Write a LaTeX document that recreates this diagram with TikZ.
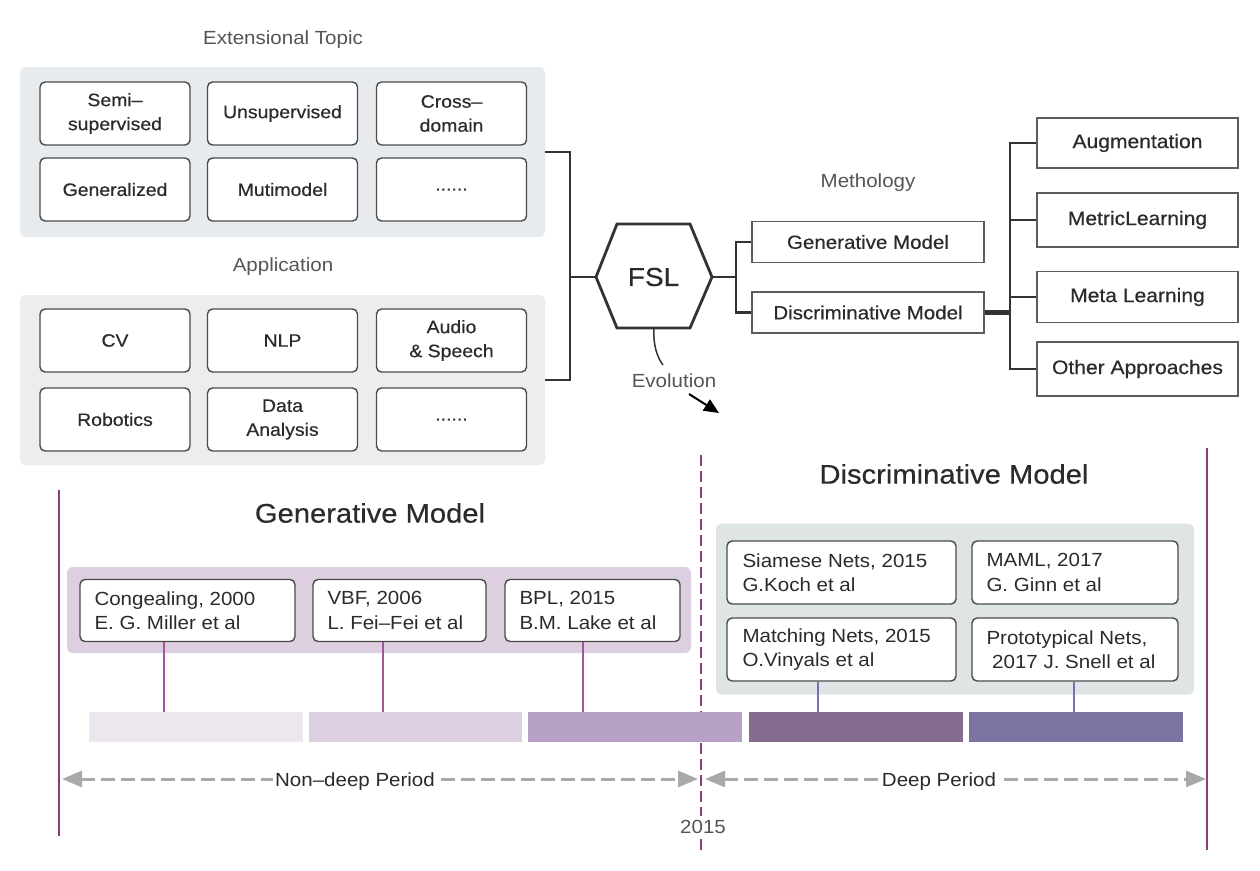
\documentclass[tikz,border=0pt]{standalone}
\usepackage{fontspec}
\setmainfont{Liberation Sans}[FakeStretch=1.08]
\newfontfamily\medfont{Liberation Sans}[FakeStretch=1.08,FakeBold=0.45]
\usetikzlibrary{arrows.meta,calc}
\definecolor{txt}{HTML}{2B2B2B}
\definecolor{ttl}{HTML}{555555}
\definecolor{bdr}{HTML}{4A4A4A}
\definecolor{cline}{HTML}{333333}
\definecolor{pA}{HTML}{E8EBEE}
\definecolor{pB}{HTML}{EEEDEC}
\definecolor{gpan}{HTML}{DCCFE0}
\definecolor{dpan}{HTML}{DEE5E4}
\definecolor{bA}{HTML}{ECE6EE}
\definecolor{bB}{HTML}{DCCFE1}
\definecolor{bC}{HTML}{B7A0C6}
\definecolor{bD}{HTML}{876C92}
\definecolor{bE}{HTML}{7D73A0}
\definecolor{purp}{HTML}{8B3D7E}
\definecolor{plA}{HTML}{A0589A}
\definecolor{plB}{HTML}{7B6FB8}
\definecolor{garr}{HTML}{A9A9A9}
\newcommand\fsz[2]{\fontsize{#1pt}{#2pt}\selectfont}
\begin{document}
\begin{tikzpicture}[x=1pt,y=-1pt,
  panel/.style={rounded corners=6pt, inner sep=0pt},
  tbox/.style={draw=bdr, line width=1.4pt, rounded corners=5pt, fill=white,
    minimum width=150pt, minimum height=63pt, align=center, inner sep=2pt,
    font=\medfont\fsz{18}{24}, text=txt},
  mbox/.style={draw=bdr!90, line width=1.5pt, fill=white, minimum width=232pt,
    minimum height=41pt, inner sep=2pt, font=\medfont\fsz{19}{23}, text=txt},
  rbox/.style={draw=bdr!90, line width=1.5pt, fill=white, minimum width=201pt,
    inner sep=2pt, font=\medfont\fsz{19.5}{23}, text=txt},
  ebox/.style={draw=bdr, line width=1.4pt, rounded corners=5pt, fill=white,
    minimum height=62pt, inner sep=0pt},
  etext/.style={anchor=west, align=left, inner sep=0pt, font=\fsz{19}{24.5}, text=txt},
  ttlnode/.style={font=\fsz{19}{22}, text=ttl},
  bigttl/.style={font=\medfont\fsz{27}{31}, text=txt},
  barnode/.style={minimum width=214pt, minimum height=30pt, inner sep=0pt},
  conn/.style={line width=2.8pt, draw=cline},
  plinka/.style={line width=1.2pt, draw=plA},
  plinkb/.style={line width=1.2pt, draw=plB},
  period/.style={draw=garr, line width=3pt, dash pattern=on 14pt off 6pt,
    {Triangle[length=20pt,width=16pt]}-{Triangle[length=20pt,width=16pt]}},
  plabel/.style={fill=white, inner xsep=2pt, inner ysep=1pt, font=\fsz{19}{22}, text=txt},
  vline/.style={draw=purp, line width=2.4pt}
]
\useasboundingbox[fill=white] (0,0) rectangle (1260,870);

% ---------- top-left panels ----------
\node[ttlnode] (tExt) at (283,40) {Extensional Topic};
\node[panel, fill=pA, minimum width=525pt, minimum height=170pt] (p1) at (282.5,152) {};
\node[tbox] (semi) at (115,113.5) {Semi–\\supervised};
\node[tbox] (unsup) at (282.5,113.5) {Unsupervised};
\node[tbox] (cross) at (451.5,113.5) {Cross–\\domain};
\node[tbox] (gen) at (115,189.5) {Generalized};
\node[tbox] (muti) at (282.5,189.5) {Mutimodel};
\node[tbox] (dotsA) at (451.5,189.5) {......};

\node[ttlnode] (tApp) at (283,267) {Application};
\node[panel, fill=pB, minimum width=525pt, minimum height=170pt] (p2) at (282.5,380) {};
\node[tbox] (cv) at (115,340.5) {CV};
\node[tbox] (nlp) at (282.5,340.5) {NLP};
\node[tbox] (audio) at (451.5,340.5) {Audio\\\& Speech};
\node[tbox] (robo) at (115,419.5) {Robotics};
\node[tbox] (data) at (282.5,419.5) {Data\\Analysis};
\node[tbox] (dotsB) at (451.5,419.5) {......};

% ---------- FSL hexagon ----------
\coordinate (hexL) at (596,277);
\coordinate (hexTL) at (617,224);
\coordinate (hexTR) at (690,224);
\coordinate (hexR) at (712,277);
\coordinate (hexBR) at (690,328);
\coordinate (hexBL) at (617,328);
\coordinate (hexB) at (654,328);
\draw[line width=2.8pt, draw=cline, fill=white, line join=miter]
  (hexL) -- (hexTL) -- (hexTR) -- (hexR) -- (hexBR) -- (hexBL) -- cycle;
\node[font=\medfont\fsz{26}{30}, text=txt] (fsl) at (653.5,277) {FSL};

\coordinate (brk) at (570,277);
\draw[conn] (p1.east) -| (brk) |- (p2.east);
\draw[conn] (brk) -- (hexL);

% ---------- methodology ----------
\node[ttlnode] (tMeth) at (868,183) {Methology};
\node[mbox] (gm) at (868,242) {Generative Model};
\node[mbox] (dm) at (868,312.5) {Discriminative Model};
\coordinate (j1) at (736,277);
\draw[conn] (hexR) -- (j1);
\draw[conn] (gm.west) -| (j1) |- (dm.west);

\node[rbox, minimum height=50pt] (aug) at (1137.5,143) {Augmentation};
\node[rbox, minimum height=54pt] (metric) at (1137.5,220) {MetricLearning};
\node[rbox, minimum height=51pt] (meta) at (1137.5,297) {Meta Learning};
\node[rbox, minimum height=54pt] (other) at (1137.5,369) {Other Approaches};
\coordinate (j2) at (1010,312.5);
\draw[line width=4.4pt, draw=cline] (dm.east) -- (j2);
\draw[conn] (aug.west) -- (aug.west -| j2) -- (other.west -| j2) -- (other.west);
\draw[conn] (metric.west) -- (metric.west -| j2);
\draw[conn] (meta.west) -- (meta.west -| j2);

% ---------- evolution ----------
\coordinate (evA) at (663,365);
\draw[line width=1.5pt, draw=cline] (hexB) .. controls (653,345) and (657,357) .. (evA);
\node[ttlnode] (evo) at (674,381) {Evolution};
\coordinate (arA) at (689,394);
\coordinate (arB) at (719,413);
\draw[line width=2pt, draw=black, -{Triangle[length=15pt,width=13pt]}] (arA) -- (arB);

% ---------- timeline frame lines ----------
\draw[vline] (59,490) -- (59,836);
\draw[vline] (1207,448) -- (1207,850);
\draw[draw=purp, line width=2pt, dash pattern=on 11pt off 5pt] (701,455) -- (701,850);

% ---------- generative period ----------
\node[bigttl] (tGen) at (370,513) {Generative Model};
\node[panel, fill=gpan, minimum width=624pt, minimum height=86pt] (gp) at (379,610) {};
\node[ebox, minimum width=215pt] (cg) at (187.5,610.5) {};
\node[etext] (cgt) at ([xshift=15pt]cg.west) {Congealing, 2000\\E. G. Miller et al};
\node[ebox, minimum width=173pt] (vbf) at (399.5,610.5) {};
\node[etext] (vbft) at ([xshift=15pt]vbf.west) {VBF, 2006\\L. Fei–Fei et al};
\node[ebox, minimum width=175pt] (bpl) at (592.5,610.5) {};
\node[etext] (bplt) at ([xshift=15pt]bpl.west) {BPL, 2015\\B.M. Lake et al};

% ---------- discriminative period ----------
\node[bigttl] (tDis) at (954,474) {Discriminative Model};
\node[panel, fill=dpan, minimum width=478pt, minimum height=171pt] (dp) at (955,609) {};
\node[ebox, minimum width=229pt, minimum height=63pt] (sia) at (841.5,572.5) {};
\node[etext] (siat) at ([xshift=16pt]sia.west) {Siamese Nets, 2015\\G.Koch et al};
\node[ebox, minimum width=206pt, minimum height=63pt] (maml) at (1075,572.5) {};
\node[etext] (mamlt) at ([xshift=15pt]maml.west) {MAML, 2017\\G. Ginn et al};
\node[ebox, minimum width=229pt, minimum height=63pt] (mat) at (841.5,649.5) {};
\node[etext] (matt) at ([xshift=16pt]mat.west) {Matching Nets, 2015\\O.Vinyals et al};
\node[ebox, minimum width=206pt, minimum height=63pt] (pro) at (1075,649.5) {};
\node[etext] (prot) at ([xshift=15pt]pro.west) {Prototypical Nets,\\\ 2017 J. Snell et al};

% ---------- bars ----------
\node[barnode, fill=bA] (b1) at (196,727) {};
\node[barnode, fill=bB, minimum width=213pt] (b2) at (415.5,727) {};
\node[barnode, fill=bC] (b3) at (635,727) {};
\node[barnode, fill=bD] (b4) at (856,727) {};
\node[barnode, fill=bE] (b5) at (1076,727) {};

\coordinate (l1) at ([xshift=-23.5pt]cg.south);
\coordinate (l2) at ([xshift=-16.5pt]vbf.south);
\coordinate (l3) at ([xshift=-9.5pt]bpl.south);
\coordinate (l4) at ([xshift=-23.5pt]mat.south);
\coordinate (l5) at ([xshift=-1pt]pro.south);
\draw[plinka] (l1) -- (l1 |- b1.north);
\draw[plinka] (l2) -- (l2 |- b2.north);
\draw[plinka] (l3) -- (l3 |- b3.north);
\draw[plinkb] (l4) -- (l4 |- b4.north);
\draw[plinkb] (l5) -- (l5 |- b5.north);

% ---------- periods ----------
\coordinate (ndL) at (62,779);
\coordinate (ndR) at (698,779);
\coordinate (dpL) at (705,779);
\coordinate (dpR) at (1206,779);
\draw[period] (ndL) -- (ndR);
\draw[period] (dpL) -- (dpR);
\node[plabel] (ndlab) at (355,782) {Non–deep Period};
\node[plabel] (dplab) at (939,782) {Deep Period};
\node[ttlnode, fill=white, inner xsep=1pt, inner ysep=4pt] (y2015) at (703,827) {2015};
\end{tikzpicture}
\end{document}
